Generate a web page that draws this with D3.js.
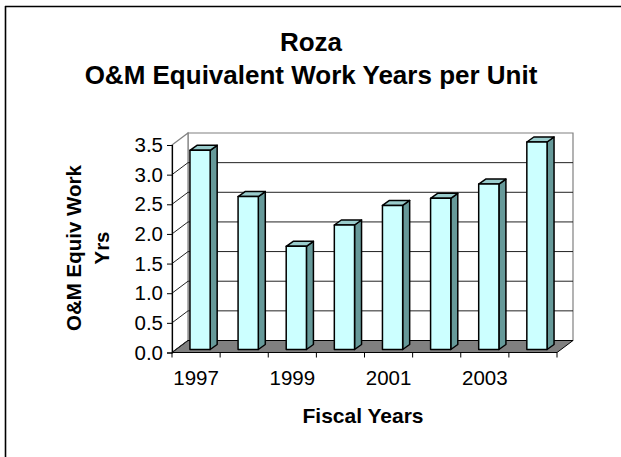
<!DOCTYPE html>
<html>
<head>
<meta charset="utf-8">
<script src="https://cdnjs.cloudflare.com/ajax/libs/d3/7.8.5/d3.min.js"></script>
<style>
    html, body { margin: 0; padding: 0; background: #fff; overflow: hidden; }
    svg { display: block; overflow: hidden; }
    text { font-family: Arial, "Liberation Sans", sans-serif; fill: #000; }
</style>
</head>
<body>
<div id="chartContainer"></div>
<script>
//DATA
var years = ["1997", "1998", "1999", "2000", "2001", "2002", "2003", "2004"];
var workYears = [3.36, 2.58, 1.74, 2.10, 2.43, 2.55, 2.79, 3.50];
var yTicks = [0, 0.5, 1.0, 1.5, 2.0, 2.5, 3.0, 3.5];
var xLabels = ["1997", "1999", "2001", "2003"];
var titleLines = ["Roza", "O&M Equivalent Work Years per Unit"];
var yTitleLines = ["O&M Equiv Work", "Yrs"];
var xTitle = "Fiscal Years";

var width = 621, height = 457;

//plot area (front plane) and depth offset of the 3d box
var plotLeft = 172, plotRight = 557, plotTop = 145, plotBottom = 352.5;
var depthX = 16, depthY = -12;

var svg = d3.select('#chartContainer').append('svg')
    .attr('width', width).attr('height', height);

svg.append('rect').attr('width', width).attr('height', height).attr('fill', '#fff');

//outer frame, only left and top edges are inside the picture
svg.append('line').attr('x1', 5.5).attr('x2', 5.5).attr('y1', 6).attr('y2', height)
    .attr('stroke', '#000').attr('stroke-width', 1.6);
svg.append('line').attr('x1', 5).attr('x2', width).attr('y1', 6.5).attr('y2', 6.5)
    .attr('stroke', '#000').attr('stroke-width', 1.6);

var x = d3.scaleBand().domain(years).range([plotLeft, plotRight]);
var y = d3.scaleLinear().domain([0, 3.5]).range([plotBottom, plotTop]);

/* WALLS */
var backL = plotLeft + depthX, backR = plotRight + depthX;
var backTop = y(3.5) + depthY, backBottom = y(0) + depthY;

svg.append('polygon')
    .attr('points', [[backL, backTop], [backR, backTop], [backR, backBottom], [backL, backBottom]].join(' '))
    .attr('fill', '#fff').attr('stroke', '#808080').attr('stroke-width', 1.2);

svg.append('polygon')
    .attr('points', [[plotLeft, y(3.5)], [backL, backTop], [backL, backBottom], [plotLeft, y(0)]].join(' '))
    .attr('fill', '#fff').attr('stroke', '#808080').attr('stroke-width', 1.2);

//floor
svg.append('polygon')
    .attr('points', [[plotLeft, y(0)], [backL, backBottom], [backR, backBottom], [plotRight, y(0)]].join(' '))
    .attr('fill', '#808080').attr('stroke', '#000').attr('stroke-width', 1);

/* GRIDLINES */
var grid = yTicks.filter(function (d) { return d > 0 && d < 3.5; });

svg.selectAll('.grid').data(grid).enter()
    .append('line').attr('class', 'grid')
    .attr('x1', backL).attr('x2', backR)
    .attr('y1', function (d) { return y(d) + depthY; })
    .attr('y2', function (d) { return y(d) + depthY; })
    .attr('stroke', '#222').attr('stroke-width', 1);

svg.selectAll('.sideGrid').data(yTicks.filter(function (d) { return d < 3.5; })).enter()
    .append('line').attr('class', 'sideGrid')
    .attr('x1', plotLeft).attr('x2', backL)
    .attr('y1', function (d) { return y(d); })
    .attr('y2', function (d) { return y(d) + depthY; })
    .attr('stroke', '#222').attr('stroke-width', 1);

/* BARS */
var barW = x.bandwidth() * 0.42;
var shiftX = 4, shiftY = -3;      //front face sits a bit inside the box
var barDX = 7, barDY = -5;        //bar depth

var bars = svg.selectAll('.bar').data(years).enter()
    .append('g').attr('class', 'bar');

function face(d, i, kind) {
    var x0 = x(d) + (x.bandwidth() - barW) / 2 + shiftX;
    var x1 = x0 + barW;
    var y0 = y(0) + shiftY;
    var y1 = y(workYears[i]) + shiftY;
    if (kind === 'front') return [[x0, y1], [x1, y1], [x1, y0], [x0, y0]];
    if (kind === 'side') return [[x1, y1], [x1 + barDX, y1 + barDY], [x1 + barDX, y0 + barDY], [x1, y0]];
    return [[x0, y1], [x0 + barDX, y1 + barDY], [x1 + barDX, y1 + barDY], [x1, y1]];
}

bars.append('polygon')
    .attr('points', function (d, i) { return face(d, i, 'side').join(' '); })
    .attr('fill', '#669999').attr('stroke', '#000').attr('stroke-width', 1.5)
    .attr('stroke-linejoin', 'round');

bars.append('polygon')
    .attr('points', function (d, i) { return face(d, i, 'top').join(' '); })
    .attr('fill', '#99CCCC').attr('stroke', '#000').attr('stroke-width', 1.5)
    .attr('stroke-linejoin', 'round');

bars.append('polygon')
    .attr('points', function (d, i) { return face(d, i, 'front').join(' '); })
    .attr('fill', '#CCFFFF').attr('stroke', '#000').attr('stroke-width', 1.5)
    .attr('stroke-linejoin', 'round');

/* AXES */
var yAxis = d3.axisLeft(y).tickValues(yTicks).tickSize(5).tickPadding(4)
    .tickFormat(d3.format('.1f'));

var gy = svg.append('g').attr('transform', 'translate(' + plotLeft + ',0)').call(yAxis);
gy.attr('font-size', null).attr('font-family', null);
gy.select('.domain').attr('stroke', '#000').attr('stroke-width', 1.2);
gy.selectAll('.tick line').attr('stroke', '#000');
gy.selectAll('.tick text').style('font-size', '20.5px');

//x axis: ticks on category edges, labels on every other category
var edges = years.map(function (d) { return x(d); }).concat([plotRight]);

svg.append('line')
    .attr('x1', plotLeft).attr('x2', plotRight)
    .attr('y1', y(0)).attr('y2', y(0))
    .attr('stroke', '#000').attr('stroke-width', 1.2);

svg.selectAll('.xtick').data(edges).enter()
    .append('line').attr('class', 'xtick')
    .attr('x1', function (d) { return d; }).attr('x2', function (d) { return d; })
    .attr('y1', y(0)).attr('y2', y(0) + 5)
    .attr('stroke', '#000').attr('stroke-width', 1);

svg.selectAll('.xlabel').data(xLabels).enter()
    .append('text').attr('class', 'xlabel')
    .attr('x', function (d) { return x(d) + x.bandwidth() / 2; })
    .attr('y', 385)
    .attr('text-anchor', 'middle')
    .style('font-size', '20.5px')
    .text(function (d) { return d; });

/* TITLES */
svg.selectAll('.title').data(titleLines).enter()
    .append('text').attr('class', 'title')
    .attr('x', 311)
    .attr('y', function (d, i) { return 51 + i * 33; })
    .attr('text-anchor', 'middle')
    .style('font-size', '26px').style('font-weight', 'bold')
    .text(function (d) { return d; });

svg.selectAll('.ytitle').data(yTitleLines).enter()
    .append('text').attr('class', 'ytitle')
    .attr('transform', function (d, i) { return 'translate(' + (81 + i * 28) + ',248) rotate(-90)'; })
    .attr('text-anchor', 'middle')
    .style('font-size', '20.5px').style('font-weight', 'bold')
    .text(function (d) { return d; });

svg.append('text')
    .attr('x', 363).attr('y', 423)
    .attr('text-anchor', 'middle')
    .style('font-size', '21px').style('font-weight', 'bold')
    .text(xTitle);
</script>
</body>
</html>
